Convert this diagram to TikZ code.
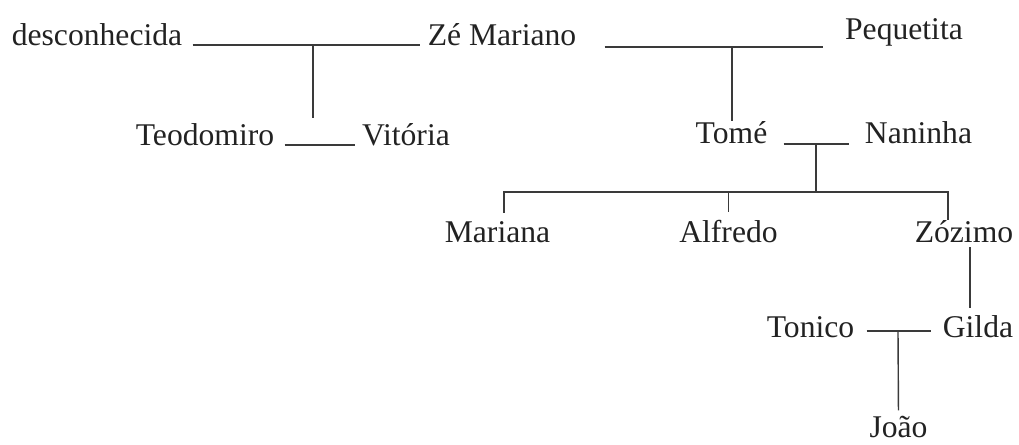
\documentclass[tikz,border=0pt]{standalone}
\usepackage{fontspec}
\setmainfont{Liberation Serif}
\usetikzlibrary{positioning}
\definecolor{inkgray}{HTML}{222222}
\definecolor{linegray}{HTML}{3A3A3A}
\tikzset{
tree/.style={
    x=0.02cm,
    y=-0.02cm,
    font=\fontsize{18}{22}\selectfont,
    text=inkgray
},
person/.style={
    inner sep=0pt,
    anchor=base
},
couple/.style={
    draw=linegray,
    line width=0.8pt
},
descent/.style={
    draw=linegray,
    line width=0.8pt
}}

\begin{document}
\begin{tikzpicture}[tree]
\useasboundingbox (0,0) rectangle (1019,444);
% first generation
\node[person]   (desc)  at (97,45)     {desconhecida};
\node[person]   (ze)    at (502,45)    {Zé Mariano};
\node[person]   (peq)   at (904,39)    {Pequetita};
% second generation
\node[person]   (teo)   at (205,145)   {Teodomiro};
\node[person]   (vit)   at (406,145)   {Vitória};
\node[person]   (tome)  at (731.5,143) {Tomé};
\node[person]   (nan)   at (918.5,143) {Naninha};
% third generation
\node[person]   (mar)   at (497.5,242) {Mariana};
\node[person]   (alf)   at (728.5,242) {Alfredo};
\node[person]   (zoz)   at (964,242)   {Zózimo};
\node[person]   (ton)   at (810.5,337) {Tonico};
\node[person]   (gil)   at (978,337)   {Gilda};
\node[person]   (joao)  at (898.5,437) {João};

% junctions
\coordinate (c1)  at (313,46);
\coordinate (c2)  at (732,47);
\coordinate (c3)  at (816,144);
\coordinate (c4)  at (898,331);
\coordinate (bar) at (816,192);
\coordinate (b1)  at (504,192);
\coordinate (b3)  at (948,192);
\coordinate (z1)  at (970,247);

% couples
\path (desc.base east) edge[couple, shorten <=0.2cm, shorten >=0.14cm] (ze.base west);
\path (ze.base east |- c2) edge[couple, shorten <=0.56cm, shorten >=0.44cm] (peq.west |- c2);
\path (teo.base east) edge[couple, shorten <=0.2cm, shorten >=0.14cm] (vit.base west);
\path (tome.base east |- c3) edge[couple, shorten <=0.32cm, shorten >=0.32cm] (nan.base west |- c3);
\path (ton.base east |- c4) edge[couple, shorten <=0.24cm, shorten >=0.24cm] (gil.base west |- c4);

% children
\path (c1) edge[descent, shorten >=0.1cm] (c1 |- teo.north);
\path (c2) edge[descent] (c2 |- tome.north);
\path (c3) edge[descent] (bar);
\draw[descent] (b1 |- mar.north) [shorten <=0.16cm] -- (b1) -- (b3) -- (b3 |- zoz.north);
\path (alf.north |- bar) edge[descent, shorten >=0.14cm] (alf.north);
\path (z1) edge[descent, shorten >=0.14cm] (z1 |- gil.north);
\path (c4) edge[descent, shorten >=0.1cm] (joao.north);
\end{tikzpicture}
\end{document}
